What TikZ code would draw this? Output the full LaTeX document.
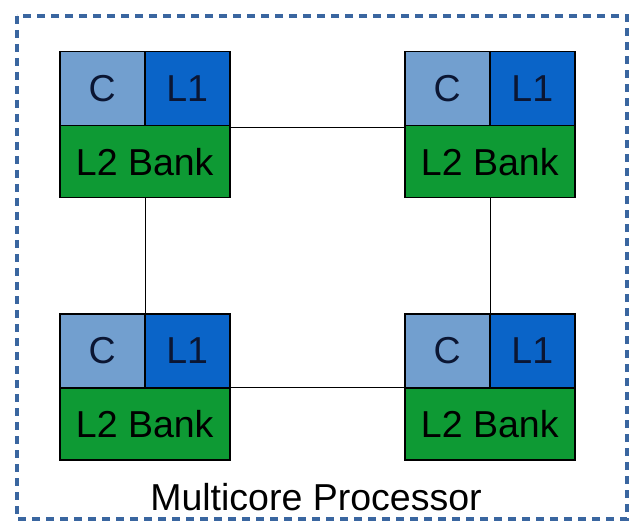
\documentclass[tikz,border=0pt]{standalone}
\usepackage{fontspec}
\setmainfont{Liberation Sans}
\definecolor{cblue}{HTML}{729FCF}
\definecolor{lblue}{HTML}{0A64C8}
\definecolor{lgreen}{HTML}{0E9A34}
\definecolor{frame}{HTML}{3A66A0}
\definecolor{ink}{HTML}{0B1633}
\begin{document}
\begin{tikzpicture}[x=1pt,y=-1pt,
  cell/.style={draw=black,line width=1.5pt,inner sep=0pt,anchor=north west},
  txt/.style={font=\fontsize{37.5}{40}\selectfont},
  link/.style={draw=black,line width=1pt}]
\useasboundingbox (0,0) rectangle (631,521);
\draw[frame,line width=4pt,dash pattern=on 8pt off 6pt] (17,16) rectangle (627,519);
\foreach \n/\x/\y in {a/59/51,b/404/51,c/59/313,d/404/313}{
  \node[cell,fill=cblue,minimum width=85pt,minimum height=74pt,txt,text=ink] (\n c) at (\x,\y) {C};
  \node[cell,fill=lblue,minimum width=85pt,minimum height=74pt,txt,text=ink] (\n l) at (\x+85,\y) {L1};
  \node[cell,fill=lgreen,minimum width=170pt,minimum height=72pt,txt,text=black] (\n b) at (\x,\y+74) {L2 Bank};
}
\draw[link] (ab.north east) ++(0,3) coordinate (p1) -- (bb.west |- p1);
\draw[link] (ab.south -| ac.east) -- (cc.north east);
\draw[link] (bb.south -| bc.east) -- (dc.north east);
\draw[link] (cb.north east) -- (db.north west);
\node[txt,text=black] (title) at (316,497) {Multicore Processor};
\end{tikzpicture}
\end{document}
